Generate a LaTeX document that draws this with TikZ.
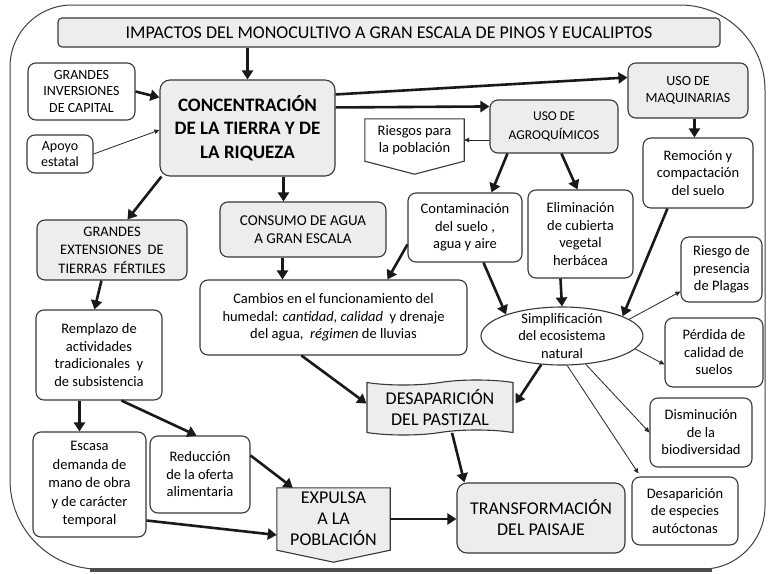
\documentclass[tikz,border=0pt]{standalone}
\usepackage{fontspec}
\setmainfont{Carlito}
\usetikzlibrary{arrows.meta,calc,shapes.geometric,shapes.symbols,backgrounds}
\definecolor{gfill}{HTML}{EDEDED}
\definecolor{bord}{HTML}{383838}
\newcommand{\mytxt}{\fontsize{14.5}{17.5}\selectfont}
\newcommand{\mycaps}{\fontsize{14}{17}\selectfont}
\newcommand{\mybig}{\fontsize{18}{21}\selectfont}
\begin{document}
\begin{tikzpicture}[x=1pt,y=-1pt,
 box/.style={draw=bord, line width=1.1pt, rounded corners=8pt, fill=white, align=center, inner sep=0pt},
 gbox/.style={box, fill=gfill},
 thk/.style={line width=2.6pt, draw=black!90, -{Triangle[length=9pt,width=11pt]}},
 thn/.style={line width=0.8pt, draw=black!85, -{Triangle[length=5pt,width=4.5pt]}},
 frame/.style={draw=black!75, line width=1pt},
 shapeline/.style={draw=bord, line width=1.1pt}
]
\useasboundingbox (0,0) rectangle (768,573);
\begin{scope}[on background layer]
\fill[white] (0,0) rectangle (768,573);
\end{scope}
% outer frame
\draw[frame] (72,5) -- (680,5) .. controls (726.9,5) and (765,43.1) .. (765,90)
  -- (765,506) .. controls (765,540.2) and (737.2,569) .. (703,569)
  -- (98,569) .. controls (49.4,569) and (10,528.6) .. (10,480)
  -- (10,67) .. controls (10,32.8) and (37.8,5) .. (72,5) -- cycle;
\draw[line width=3.5pt, black!70] (90,570) -- (712,570);

% nodes
\node[gbox, rounded corners=4pt, minimum width=662pt, minimum height=29pt, font=\fontsize{18}{20}\selectfont] (title) at (389,32.5) {IMPACTOS\ DEL MONOCULTIVO A GRAN ESCALA DE PINOS Y EUCALIPTOS};
\node[box, minimum width=107pt, minimum height=57pt, font=\fontsize{14}{16.5}\selectfont] (inv) at (81.5,91.5) {GRANDES\\INVERSIONES\\DE CAPITAL};
\node[box, minimum width=66pt, minimum height=38pt, font=\fontsize{14}{16}\selectfont] (apoyo) at (60,154) {Apoyo\\estatal};
\node[gbox, rounded corners=10pt, minimum width=175pt, minimum height=96pt, font=\fontsize{19}{23.5}\selectfont\bfseries] (conc) at (247.5,128) {CONCENTRACIÓN\\DE LA TIERRA Y DE\\LA RIQUEZA};
\node[gbox, minimum width=120pt, minimum height=55pt, font=\mycaps] (maq) at (688,90.5) {USO DE\\MAQUINARIAS};
\node[gbox, minimum width=128pt, minimum height=53pt, font=\fontsize{13.5}{19}\selectfont] (agro) at (554,126.5) {USO DE\\AGROQUÍMICOS};
\node[align=center, inner sep=0pt, minimum width=99pt, minimum height=42pt, font=\mytxt] (riesgos) at (414.5,140) {Riesgos para\\la población};
\node[box, minimum width=110pt, minimum height=70pt, font=\mytxt] (remo) at (698,173) {Remoción y\\compactación\\del suelo};
\node[box, minimum width=114pt, minimum height=69pt, font=\mytxt] (cont) at (465,227.5) {Contaminación\\del suelo ,\\agua y aire};
\node[box, minimum width=105pt, minimum height=88pt, font=\mytxt] (elim) at (580.5,234) {Eliminación\\de cubierta\\vegetal\\herbácea};
\node[gbox, minimum width=166pt, minimum height=55pt, font=\fontsize{15}{18}\selectfont] (consumo) at (303,229.5) {CONSUMO DE AGUA\\A GRAN ESCALA};
\node[gbox, minimum width=150pt, minimum height=60pt, font=\fontsize{14.5}{18.5}\selectfont] (ext) at (112,250) {GRANDES\\EXTENSIONES\ \ DE\\TIERRAS\ \ FÉRTILES};
\node[box, minimum width=267pt, minimum height=75pt, font=\mytxt] (cambios) at (333.5,317.5) {Cambios en el funcionamiento del\\humedal: \textit{cantidad, calidad}\ \ y drenaje\\del agua,\ \ \textit{régimen} de lluvias};
\node[ellipse, draw=bord, line width=1.1pt, fill=white, minimum width=162pt, minimum height=58pt, inner sep=0pt] (simp) at (562,336) {};
\node[align=center, inner sep=0pt, font=\mytxt] (simptxt) at (simp) {Simplificación\\del ecosistema\\natural};
\node[box, minimum width=81pt, minimum height=65pt, font=\mytxt] (plagas) at (721.5,269.5) {Riesgo de\\presencia\\de Plagas};
\node[box, minimum width=98pt, minimum height=69pt, font=\mytxt] (perdida) at (714,352.5) {Pérdida de\\calidad de\\suelos};
\node[box, minimum width=126pt, minimum height=90pt, font=\mytxt] (remp) at (99,355) {Remplazo de\\actividades\\tradicionales\ \ y\\de subsistencia};
\node[tape, draw=bord, line width=1.1pt, fill=gfill, align=center, inner sep=0pt, minimum width=146pt, minimum height=55pt, font=\mybig] (desap) at (440,407.5) {DESAPARICIÓN\\DEL PASTIZAL};
\node[box, minimum width=113pt, minimum height=105pt, font=\fontsize{14.5}{18.5}\selectfont] (escasa) at (89.5,484.5) {Escasa\\demanda de\\mano de obra\\y de carácter\\temporal};
\node[box, minimum width=100pt, minimum height=77pt, font=\mytxt] (reduc) at (200,474.5) {Reducción\\de la oferta\\alimentaria};
\node[align=center, inner sep=0pt, minimum width=113pt, minimum height=62pt, font=\mybig] (expulsa) at (333.5,519) {EXPULSA\\A LA\\POBLACIÓN};
\node[gbox, rounded corners=10pt, minimum width=168pt, minimum height=70pt, font=\mybig] (transf) at (541,518) {TRANSFORMACIÓN\\DEL PAISAJE};
\node[box, minimum width=102pt, minimum height=69pt, font=\mytxt] (dismin) at (701,432.5) {Disminución\\de la\\biodiversidad};
\node[box, minimum width=106pt, minimum height=68pt, font=\mytxt] (desesp) at (685,511) {Desaparición\\de especies\\autóctonas};

% pentagon outlines behind text
\begin{scope}[on background layer]
\draw[shapeline, fill=white] (riesgos.north west) -- (riesgos.north east) -- (riesgos.south east) -- ($(riesgos.south)+(0,13)$) -- (riesgos.south west) -- cycle;
\draw[shapeline, fill=gfill] (expulsa.north west) -- (expulsa.north east) -- (expulsa.south east) -- ($(expulsa.south)+(0,12)$) -- (expulsa.south west) -- cycle;
\end{scope}

% connectors
\draw[thk] (title.south -| conc.north) -- (conc.north);
\draw[thk] (inv.east) -- ($(conc.north west)+(0,18)$);
\draw[thn] (apoyo.east) -- ($(conc.west)+(0,2)$);
\draw[thk] ($(conc.north east)+(0,15)$) -- ($(maq.north west)+(0,15)$);
\draw[thk] ($(conc.north east)+(0,28)$) -- ($(agro.north west)+(0,7)$);
\draw[thk] ($(conc.south west)+(124,0)$) -- ($(consumo.north west)+(64,0)$);
\draw[thk] ($(conc.south west)+(2,0)$) -- ($(ext.north west)+(91,0)$);
\draw[thk] ($(maq.south west)+(67,0)$) -- ($(remo.north west)+(52,0)$);
\draw[thn] (agro.west |- riesgos.east) -- (riesgos.east);
\draw[thk] ($(agro.south west)+(18,0)$) -- ($(cont.north west)+(84,0)$);
\draw[thk] ($(agro.south west)+(72,0)$) -- ($(elim.north west)+(50,0)$);
\draw[thk] ($(remo.south west)+(25,0)$) -- (simp.18);
\draw[thk] ($(elim.south west)+(33,0)$) -- (simp.north);
\draw[thk] ($(cont.south west)+(76,0)$) -- (simp.159);
\draw[thk] ($(cont.north west)+(0,52)$) -- ($(cambios.north west)+(188,0)$);
\draw[thk] ($(consumo.south west)+(63,0)$) -- ($(cambios.north west)+(83,0)$);
\draw[thk] ($(ext.south west)+(65,0)$) -- ($(remp.north west)+(59,0)$);
\draw[thk] ($(cambios.south west)+(102,0)$) -- ($(desap.west)+(0,-4)$);
\draw[thk] (simp.-126) -- ($(desap.east)+(2,-4)$);
\draw[thk] ($(desap.south)+(12,0)$) -- ($(transf.north west)+(8,0)$);
\draw[thn] (simp.14) -- ($(plagas.west)+(0,22)$);
\draw[thn] (simp.-10) -- ($(perdida.west)+(0,12)$);
\draw[thn] (simp.-50) -- (dismin.west);
\draw[thn] (simp.-80) -- ($(desesp.north west)+(7,-3)$);
\draw[thk] ($(remp.south west)+(44,0)$) -- ($(escasa.north west)+(47,0)$);
\draw[thk] ($(remp.south west)+(86,0)$) -- ($(reduc.north west)+(47,0)$);
\draw[thk] ($(reduc.north east)+(0,20)$) -- ($(expulsa.north west)+(16,0)$);
\draw[thk] ($(escasa.east)+(0,36)$) -- ($(expulsa.west)+(0,16)$);
\draw[thk] (expulsa.east) -- (expulsa.east -| transf.west);
\end{tikzpicture}
\end{document}
